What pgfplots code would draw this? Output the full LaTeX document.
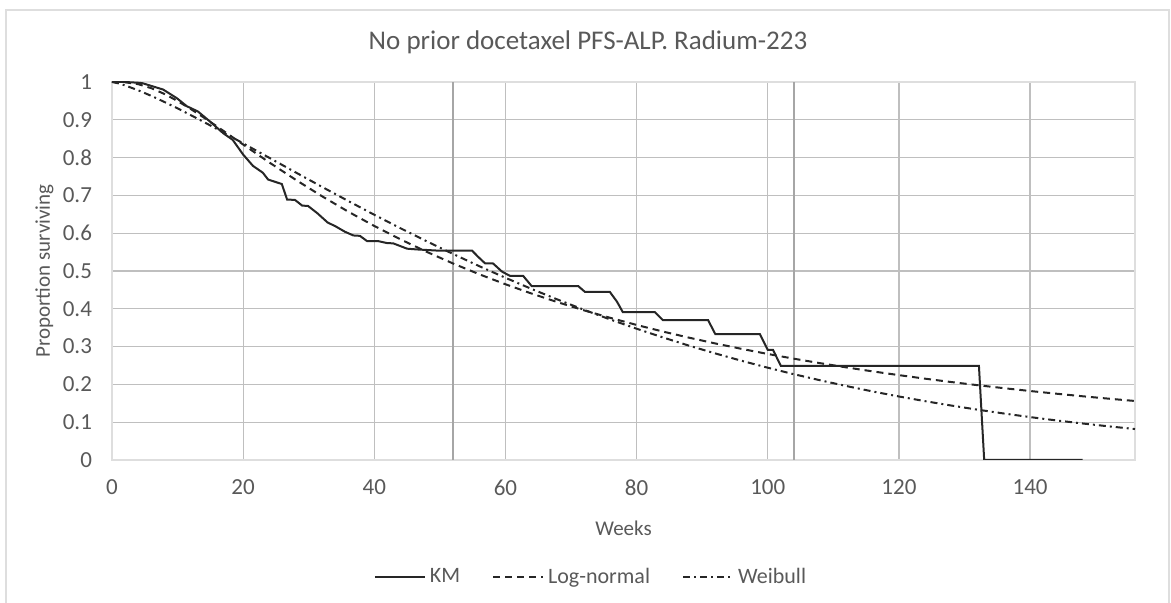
\documentclass[border=0pt]{standalone}
\usepackage{pgfplots}
\pgfplotsset{compat=1.18}
\usepackage{fontspec}
\setmainfont{Carlito}
\definecolor{txt}{HTML}{595959}
\definecolor{grid}{HTML}{DEDEDE}
\definecolor{vl}{HTML}{A6A6A6}
\definecolor{crv}{HTML}{262626}
\begin{document}
\begin{tikzpicture}
\path[use as bounding box] (-56pt,-71.5pt) rectangle (529.5pt,230pt);
\draw[grid, line width=0.6pt] (-53pt,-80pt) -- (-53pt,225pt) -- (528.5pt,225pt) -- (528.5pt,-80pt);
\begin{axis}[
  at={(0pt,0pt)}, anchor=south west,
  scale only axis, width=511.5pt, height=189pt,
  xmin=0, xmax=156, ymin=0, ymax=1,
  xtick={0,20,...,140}, ytick={0,0.1,...,1.0},
  yticklabel style={/pgf/number format/fixed,/pgf/number format/precision=1},
  /pgf/number format/assume math mode=true,
  grid=major, major grid style={grid, line width=0.6pt},
  axis line style={grid, line width=0.6pt},
  tick style={grid, line width=0.6pt},
  xtick pos=bottom, ytick pos=left,
  major tick length=0pt,
  xtick align=outside,
  tick label style={font=\fontsize{11.5}{13}\selectfont, text=txt},
  every x tick label/.style={yshift=-6.5pt},
  every y tick label/.style={xshift=-6.5pt},
  xlabel={Weeks}, ylabel={Proportion surviving},
  label style={font=\fontsize{10.5}{12}\selectfont, text=txt},
  xlabel style={at={(0.5,-0.18)}, anchor=center},
  ylabel style={at={(-0.066,0.5)}, anchor=center},
  legend columns=3,
  legend style={at={(0.4692,-0.3095)}, anchor=center, draw=none, fill=none,
    font=\fontsize{11}{12}\selectfont, text=txt,
    /tikz/every even column/.append style={column sep=14pt}},
  legend image code/.code={\draw[#1] (0pt,0pt) -- (25pt,0pt);},
]
\addplot[vl, line width=1pt, forget plot] coordinates {(52,0) (52,1)};
\addplot[vl, line width=1pt, forget plot] coordinates {(104,0) (104,1)};
\addplot[crv, line width=1pt] coordinates {
(0,1) (2,1) (4,0.998) (4.6,0.997) (6.3,0.988) (7.8,0.98) (9.9,0.957) (11.4,0.936)
(13.1,0.922) (14.9,0.896) (17,0.864) (18.4,0.847) (20,0.808) (21.5,0.778) (23,0.76)
(23.8,0.742) (25.9,0.73) (26.7,0.689) (27.9,0.688) (29,0.673) (29.9,0.672) (31.3,0.653)
(32.9,0.628) (34,0.619) (35.5,0.604) (36.8,0.594) (37.8,0.593) (38.9,0.579) (40.6,0.579)
(41.9,0.574) (42.9,0.573) (45,0.559) (46.5,0.557) (49.6,0.554) (54.9,0.554) (55.8,0.538)
(56.9,0.52) (58.1,0.52) (59.5,0.498) (60.7,0.487) (62.7,0.487) (64,0.46) (71.1,0.46)
(72.1,0.445) (75.9,0.445) (77,0.419) (77.9,0.391) (82.8,0.391) (84,0.37) (90.9,0.37)
(92,0.333) (98.8,0.333) (100,0.291) (100.8,0.291) (102,0.249) (132.2,0.249) (133,0) (148,0)
};
\addlegendentry{KM}
\addplot[crv, line width=1pt, dash pattern=on 3.5pt off 2.5pt] coordinates {
(0,1) (1,0.9999) (2,0.9993) (4,0.9942) (6,0.9836) (8,0.9683) (10,0.9496) (12,0.9286)
(14,0.9060) (16,0.8825) (18,0.8586) (20,0.8346) (24,0.7870) (28,0.7414) (32,0.6980)
(36,0.6572) (40,0.6191) (44,0.5836) (48,0.5506) (52,0.5199) (56,0.4914) (60,0.4649)
(64,0.4402) (68,0.4172) (72,0.3958) (76,0.3759) (80,0.3573) (84,0.3398) (88,0.3236)
(92,0.3083) (96,0.2940) (100,0.2805) (104,0.2679) (108,0.2561) (112,0.2449) (116,0.2344)
(120,0.2245) (124,0.2151) (128,0.2062) (132,0.1979) (136,0.1900) (140,0.1825)
(144,0.1754) (148,0.1686) (152,0.1622) (156,0.1561)
};
\addlegendentry{Log-normal}
\addplot[crv, line width=1pt, dash pattern=on 3.5pt off 2pt on 1pt off 2pt] coordinates {
(0,1) (1,0.9963) (2,0.9909) (4,0.9780) (6,0.9632) (8,0.9471) (10,0.9302) (12,0.9124)
(14,0.8942) (16,0.8756) (18,0.8568) (20,0.8377) (24,0.7993) (28,0.7609) (32,0.7228)
(36,0.6854) (40,0.6487) (44,0.6130) (48,0.5785) (52,0.5451) (56,0.5128) (60,0.4820)
(64,0.4524) (68,0.4241) (72,0.3972) (76,0.3716) (80,0.3473) (84,0.3243) (88,0.3024)
(92,0.2819) (96,0.2625) (100,0.2441) (104,0.2269) (108,0.2108) (112,0.1956) (116,0.1813)
(120,0.1680) (124,0.1556) (128,0.1440) (132,0.1331) (136,0.1230) (140,0.1135)
(144,0.1047) (148,0.0966) (152,0.0890) (156,0.0819)
};
\addlegendentry{Weibull}
\end{axis}
\node[anchor=base, text=txt, font=\fontsize{13.5}{15}\selectfont, inner sep=0pt] at (238pt,205pt) {No prior docetaxel PFS-ALP. Radium-223};
\end{tikzpicture}
\end{document}
